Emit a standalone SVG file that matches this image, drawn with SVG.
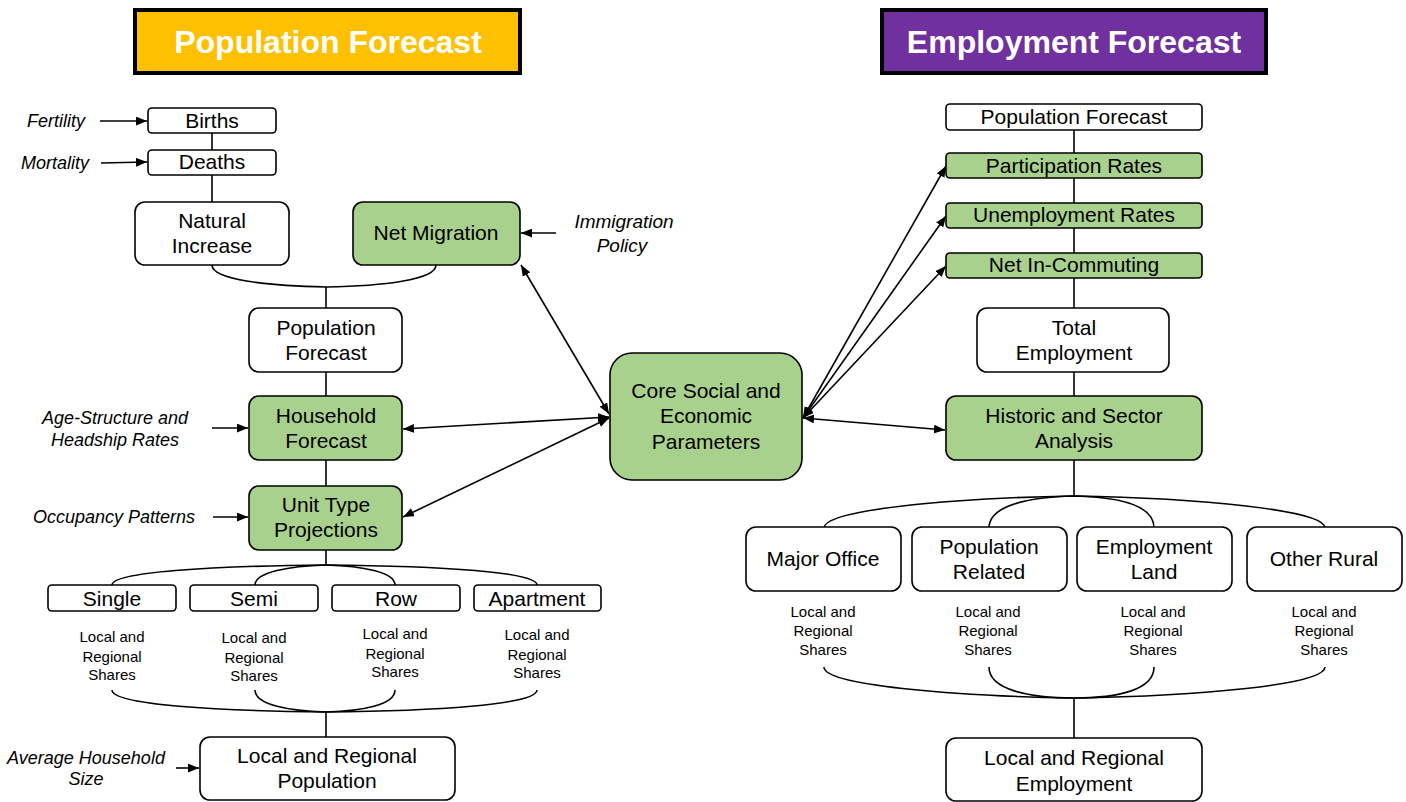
<svg xmlns="http://www.w3.org/2000/svg" width="1406" height="802" viewBox="0 0 1406 802">
<style>
.b{fill:#fff;stroke:#000;stroke-width:1.6}
.g{fill:#A9D18E;stroke:#000;stroke-width:1.6}
.t{font-family:"Liberation Sans",Arial,sans-serif;font-size:21px;fill:#000;text-anchor:middle}
.i{font-family:"Liberation Sans",Arial,sans-serif;font-size:18px;font-style:italic;fill:#000;text-anchor:middle}
.s{font-family:"Liberation Sans",Arial,sans-serif;font-size:15px;fill:#000;text-anchor:middle}
.h{font-family:"Liberation Sans",Arial,sans-serif;font-size:32px;font-weight:bold;fill:#fff;text-anchor:middle}
.c path,.c line{fill:none;stroke:#000;stroke-width:1.6}
.a{marker-end:url(#ah)}
.d{marker-start:url(#ah);marker-end:url(#ah)}
</style>
<defs>
<marker id="ah" viewBox="0 0 10 8" refX="10" refY="4" markerWidth="11" markerHeight="9" markerUnits="userSpaceOnUse" orient="auto-start-reverse">
<path d="M0,0 L10,4 L0,8 Z" fill="#000"/>
</marker>
</defs>
<rect width="1406" height="802" fill="#fff"/>

<g id="title-pop">
<rect x="135" y="10" width="385" height="63" fill="#FFC000" stroke="#000" stroke-width="4"/>
<text class="h" x="328" y="53">Population Forecast</text>
</g>
<g id="title-emp">
<rect x="882" y="10" width="384" height="63" fill="#7030A0" stroke="#000" stroke-width="4"/>
<text class="h" x="1074" y="53">Employment Forecast</text>
</g>

<g class="c" id="connectors">
<line x1="212" y1="133" x2="212" y2="150"/>
<line x1="212" y1="175" x2="212" y2="202"/>
<path d="M212,265 C212,280 270,286 326,287 C382,286 436,280 436,265"/>
<line x1="326" y1="287" x2="326" y2="308"/>
<line x1="326" y1="372" x2="326" y2="396"/>
<line x1="326" y1="460" x2="326" y2="486"/>
<line x1="326" y1="550" x2="326" y2="565"/>
<path d="M112,585 C112,572 210,566 326,565 C442,566 537,572 537,585"/>
<path d="M255,585 C255,572 290,566 326,565 C362,566 395,572 395,585"/>
<path d="M112,690 C112,705 220,711 326,712 C432,711 537,705 537,690"/>
<path d="M255,690 C255,705 290,711 326,712 C362,711 395,705 395,690"/>
<line x1="326" y1="712" x2="326" y2="737"/>
<line class="a" x1="100" y1="121" x2="147" y2="121"/>
<line class="a" x1="101" y1="163" x2="147" y2="162"/>
<line class="a" x1="556" y1="233" x2="521" y2="233"/>
<line class="a" x1="212" y1="428" x2="248" y2="428"/>
<line class="a" x1="213" y1="517" x2="248" y2="517"/>
<line class="a" x1="176" y1="768" x2="199" y2="768"/>
<line class="d" x1="521" y1="265" x2="609" y2="414"/>
<line class="d" x1="403" y1="429" x2="609" y2="417"/>
<line class="d" x1="403" y1="517" x2="609" y2="418"/>
<line class="d" x1="803" y1="418" x2="946" y2="166"/>
<line class="d" x1="803" y1="418" x2="946" y2="216"/>
<line class="d" x1="803" y1="418" x2="946" y2="266"/>
<line class="d" x1="803" y1="418" x2="945" y2="430"/>
<line x1="1074" y1="130" x2="1074" y2="153"/>
<line x1="1074" y1="178" x2="1074" y2="203"/>
<line x1="1074" y1="228" x2="1074" y2="253"/>
<line x1="1074" y1="278" x2="1074" y2="308"/>
<line x1="1074" y1="372" x2="1074" y2="396"/>
<line x1="1074" y1="460" x2="1074" y2="496"/>
<path d="M824,528 C824,510 950,498 1074,496 C1198,498 1325,510 1325,528"/>
<path d="M989,528 C989,505 1030,497 1074,496 C1118,497 1154,505 1154,528"/>
<path d="M824,667 C824,685 950,696 1074,698 C1198,696 1325,685 1325,667"/>
<path d="M989,667 C989,690 1030,698 1074,698 C1118,698 1154,690 1154,667"/>
<line x1="1074" y1="698" x2="1074" y2="738"/>
</g>

<g id="lbl-fertility"><text class="i" x="56" y="127">Fertility</text></g>
<g id="lbl-mortality"><text class="i" x="55" y="169">Mortality</text></g>
<g id="lbl-immigration"><text class="i" x="624" y="228" style="font-size:19px">Immigration</text><text class="i" x="622" y="252" style="font-size:19px">Policy</text></g>
<g id="lbl-age"><text class="i" x="115" y="424">Age-Structure and</text><text class="i" x="115" y="446">Headship Rates</text></g>
<g id="lbl-occupancy"><text class="i" x="114" y="523">Occupancy Patterns</text></g>
<g id="lbl-avg"><text class="i" x="86" y="764">Average Household</text><text class="i" x="86" y="785">Size</text></g>

<g id="births"><rect class="b" x="148" y="108" width="128" height="25" rx="4"/><text class="t" x="212" y="128">Births</text></g>
<g id="deaths"><rect class="b" x="148" y="150" width="128" height="25" rx="4"/><text class="t" x="212" y="169">Deaths</text></g>
<g id="natural"><rect class="b" x="135" y="202" width="154" height="63" rx="10"/><text class="t" x="212" y="228">Natural</text><text class="t" x="212" y="253">Increase</text></g>
<g id="netmig"><rect class="g" x="353" y="202" width="167" height="63" rx="10"/><text class="t" x="436" y="240">Net Migration</text></g>
<g id="popfc"><rect class="b" x="249" y="308" width="153" height="64" rx="10"/><text class="t" x="326" y="335">Population</text><text class="t" x="326" y="360">Forecast</text></g>
<g id="hhfc"><rect class="g" x="249" y="396" width="153" height="64" rx="10"/><text class="t" x="326" y="423">Household</text><text class="t" x="326" y="448">Forecast</text></g>
<g id="unit"><rect class="g" x="249" y="486" width="153" height="64" rx="10"/><text class="t" x="326" y="512">Unit Type</text><text class="t" x="326" y="537">Projections</text></g>
<g id="single"><rect class="b" x="48" y="585" width="128" height="26" rx="4"/><text class="t" x="112" y="606">Single</text></g>
<g id="semi"><rect class="b" x="190" y="585" width="128" height="26" rx="4"/><text class="t" x="254" y="606">Semi</text></g>
<g id="row"><rect class="b" x="332" y="585" width="128" height="26" rx="4"/><text class="t" x="396" y="606">Row</text></g>
<g id="apartment"><rect class="b" x="474" y="585" width="127" height="26" rx="4"/><text class="t" x="537" y="606">Apartment</text></g>
<g id="sh1"><text class="s" x="112" y="642">Local and</text><text class="s" x="112" y="662">Regional</text><text class="s" x="112" y="680">Shares</text></g>
<g id="sh2"><text class="s" x="254" y="643">Local and</text><text class="s" x="254" y="663">Regional</text><text class="s" x="254" y="681">Shares</text></g>
<g id="sh3"><text class="s" x="395" y="639">Local and</text><text class="s" x="395" y="659">Regional</text><text class="s" x="395" y="677">Shares</text></g>
<g id="sh4"><text class="s" x="537" y="640">Local and</text><text class="s" x="537" y="660">Regional</text><text class="s" x="537" y="678">Shares</text></g>
<g id="lrpop"><rect class="b" x="200" y="737" width="255" height="63" rx="10"/><text class="t" x="327" y="763">Local and Regional</text><text class="t" x="327" y="788">Population</text></g>

<g id="core"><rect class="g" x="610" y="353" width="192" height="127" rx="22"/><text class="t" x="706" y="398">Core Social and</text><text class="t" x="706" y="423">Economic</text><text class="t" x="706" y="449">Parameters</text></g>

<g id="r-popfc"><rect class="b" x="946" y="104" width="256" height="26" rx="4"/><text class="t" x="1074" y="124">Population Forecast</text></g>
<g id="partic"><rect class="g" x="946" y="153" width="256" height="25" rx="4"/><text class="t" x="1074" y="173">Participation Rates</text></g>
<g id="unemp"><rect class="g" x="946" y="203" width="256" height="25" rx="4"/><text class="t" x="1074" y="222">Unemployment Rates</text></g>
<g id="netin"><rect class="g" x="946" y="253" width="256" height="25" rx="4"/><text class="t" x="1074" y="272">Net In-Commuting</text></g>
<g id="totemp"><rect class="b" x="977" y="308" width="192" height="64" rx="10"/><text class="t" x="1074" y="335">Total</text><text class="t" x="1074" y="360">Employment</text></g>
<g id="historic"><rect class="g" x="946" y="396" width="256" height="64" rx="10"/><text class="t" x="1074" y="423">Historic and Sector</text><text class="t" x="1074" y="448">Analysis</text></g>
<g id="major"><rect class="b" x="746" y="527" width="155" height="64" rx="10"/><text class="t" x="823" y="566">Major Office</text></g>
<g id="poprel"><rect class="b" x="912" y="527" width="155" height="64" rx="10"/><text class="t" x="989" y="554">Population</text><text class="t" x="989" y="579">Related</text></g>
<g id="empland"><rect class="b" x="1077" y="527" width="155" height="64" rx="10"/><text class="t" x="1154" y="554">Employment</text><text class="t" x="1154" y="579">Land</text></g>
<g id="rural"><rect class="b" x="1247" y="527" width="155" height="64" rx="10"/><text class="t" x="1324" y="566">Other Rural</text></g>
<g id="esh1"><text class="s" x="823" y="617">Local and</text><text class="s" x="823" y="636">Regional</text><text class="s" x="823" y="655">Shares</text></g>
<g id="esh2"><text class="s" x="988" y="617">Local and</text><text class="s" x="988" y="636">Regional</text><text class="s" x="988" y="655">Shares</text></g>
<g id="esh3"><text class="s" x="1153" y="617">Local and</text><text class="s" x="1153" y="636">Regional</text><text class="s" x="1153" y="655">Shares</text></g>
<g id="esh4"><text class="s" x="1324" y="617">Local and</text><text class="s" x="1324" y="636">Regional</text><text class="s" x="1324" y="655">Shares</text></g>
<g id="lremp"><rect class="b" x="946" y="738" width="256" height="63" rx="10"/><text class="t" x="1074" y="765">Local and Regional</text><text class="t" x="1074" y="791">Employment</text></g>
</svg>
